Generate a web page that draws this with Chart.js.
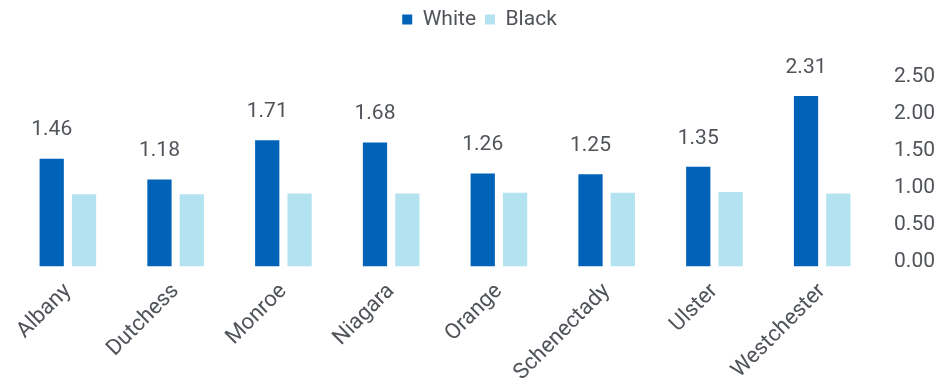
<!DOCTYPE html>
<html>
<head>
<meta charset="utf-8">
<script src="https://cdn.jsdelivr.net/npm/chart.js@4.4.1/dist/chart.umd.min.js"></script>
<style>
  html, body { margin: 0; padding: 0; background: #fff; }
  #wrap { width: 951px; height: 390px; }
</style>
</head>
<body>
<div id="wrap"><canvas id="chart"></canvas></div>
<script>
const counties = ['Albany', 'Dutchess', 'Monroe', 'Niagara', 'Orange', 'Schenectady', 'Ulster', 'Westchester'];
const whiteValues = [1.46, 1.18, 1.71, 1.68, 1.26, 1.25, 1.35, 2.31];
const blackValues = [0.98, 0.98, 0.99, 0.99, 1.00, 1.00, 1.01, 0.99];
const yTicks = ['0.00', '0.50', '1.00', '1.50', '2.00', '2.50'];

const textColor = '#505459';
const fontFamily = 'Roboto, "DejaVu Sans", sans-serif';

// etiquetas de valor sobre las barras azules
const valueLabels = {
  id: 'valueLabels',
  afterDatasetsDraw(chart) {
    const ctx = chart.ctx;
    const meta = chart.getDatasetMeta(0);
    ctx.save();
    ctx.fillStyle = textColor;
    ctx.font = '21px ' + fontFamily;
    ctx.textAlign = 'center';
    ctx.textBaseline = 'bottom';
    meta.data.forEach((bar, i) => {
      ctx.fillText(whiteValues[i].toFixed(2), bar.x, bar.y - 18);
    });
    ctx.restore();
  }
};

// espacio extra bajo la leyenda
const legendGap = {
  id: 'legendGap',
  beforeInit(chart) {
    const fit = chart.legend.fit;
    chart.legend.fit = function () {
      fit.bind(chart.legend)();
      this.height += 42;
    };
  }
};

new Chart(document.getElementById('chart'), {
  type: 'bar',
  data: {
    labels: counties,
    datasets: [
      { label: 'White', data: whiteValues, backgroundColor: '#0063b8',
        barPercentage: 0.75, categoryPercentage: 0.6 },
      { label: 'Black', data: blackValues, backgroundColor: '#b3e3f0',
        barPercentage: 0.75, categoryPercentage: 0.6 }
    ]
  },
  options: {
    responsive: true,
    maintainAspectRatio: false,
    animation: false,
    layout: { padding: { top: 0, left: 14, right: 6, bottom: 0 } },
    plugins: {
      legend: {
        position: 'top',
        labels: {
          color: textColor,
          font: { size: 21, family: fontFamily },
          boxWidth: 10, boxHeight: 10,
          padding: 9
        }
      },
      tooltip: { enabled: false }
    },
    scales: {
      x: {
        grid: { display: false },
        border: { display: false },
        ticks: {
          color: textColor,
          font: { size: 22, family: fontFamily },
          minRotation: 45, maxRotation: 45,
          padding: 4
        }
      },
      y: {
        position: 'right',
        min: 0, max: 2.5,
        grid: { display: false },
        border: { display: false },
        afterBuildTicks(axis) {
          axis.ticks = yTicks.map(t => ({ value: parseFloat(t) }));
        },
        ticks: {
          color: textColor,
          font: { size: 21, family: fontFamily },
          padding: 10,
          labelOffset: -5,
          callback: (v, i) => yTicks[i]
        }
      }
    }
  },
  plugins: [valueLabels, legendGap]
});
</script>
</body>
</html>
